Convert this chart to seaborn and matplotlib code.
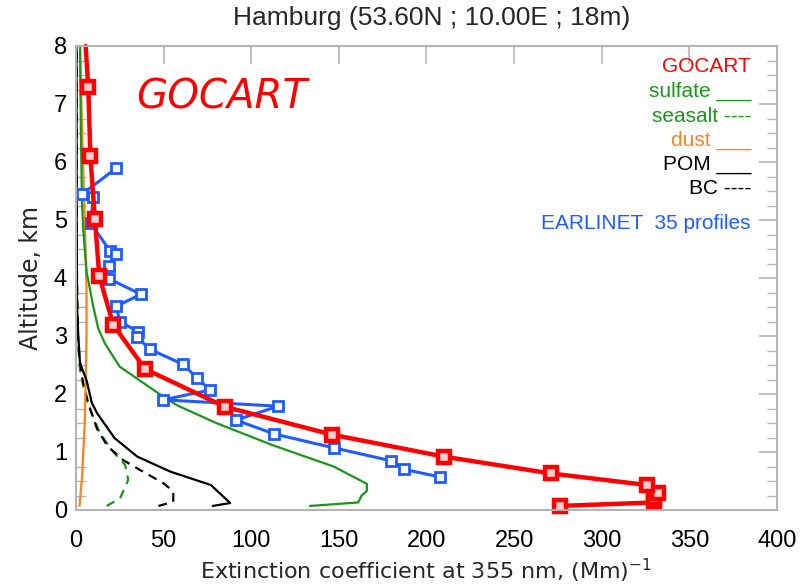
import numpy as np
import pandas as pd
import matplotlib
matplotlib.use("Agg")
import matplotlib.pyplot as plt
import seaborn as sns
from matplotlib.ticker import MultipleLocator

# ---------------- data ----------------
gocart_alt = [0.07, 0.13, 0.20, 0.29, 0.43, 0.63, 0.92, 1.30, 1.78, 2.43, 3.19, 4.03, 5.01, 6.10, 7.29, 8.0]
gocart_ext = [276, 330, 330, 332, 326, 271, 210, 146, 85, 39.5, 21.3, 13.3, 10.8, 8.2, 7.0, 5.5]

earlinet_alt = [5.89, 5.44, 5.40, 4.94, 4.47, 4.41, 4.21, 3.99, 3.72, 3.51, 3.25, 3.07, 2.99,
                2.77, 2.51, 2.28, 2.07, 1.90, 1.79, 1.55, 1.31, 1.07, 0.85, 0.70, 0.57]
earlinet_ext = [22.8, 3.2, 9.9, 8.4, 19.4, 22.8, 19.0, 18.6, 37.0, 22.8, 25.1, 35.6, 34.6,
                42.2, 61.2, 68.9, 76.5, 49.8, 115.4, 91.3, 113.2, 147.4, 179.6, 187.2, 207.7]

sulfate_alt = [0.07, 0.13, 0.25, 0.33, 0.45, 0.75, 1.12, 1.50, 1.80, 1.95, 2.47, 2.87, 3.13, 3.50, 4.10, 4.80, 5.30, 6.50, 8.0]
sulfate_ext = [133.5, 161, 163, 166, 166, 147, 112, 80, 58, 50, 25, 16.5, 12.7, 9.9, 6.1, 4.2, 3.4, 2.8, 2.3]

seasalt_alt = [0.07, 0.20, 0.52, 0.78, 1.00, 1.32, 1.81, 2.13, 2.41, 2.87, 3.5, 5.0, 8.0]
seasalt_ext = [17.5, 25.1, 29.8, 28.0, 21.3, 13.7, 7.0, 4.2, 2.3, 1.3, 0.7, 0.4, 0.3]

dust_alt = [0.07, 0.6, 1.5, 2.2, 3.0, 3.8, 5.0, 6.5, 8.0]
dust_ext = [2.0, 3.5, 5.0, 5.5, 6.0, 6.0, 5.0, 3.5, 2.3]

pom_alt = [0.07, 0.12, 0.43, 0.66, 0.92, 1.24, 1.67, 1.85, 2.24, 2.53, 3.0, 3.5, 5.0, 8.0]
pom_ext = [78, 88, 77, 54, 35, 22, 12, 9, 6, 2.3, 1.3, 0.6, 0.4, 0.3]

bc_alt = [0.07, 0.14, 0.32, 0.46, 0.69, 0.86, 1.10, 1.40, 1.84, 2.20, 2.60, 3.0, 4.0, 8.0]
bc_ext = [47, 55.5, 55.5, 50, 36.5, 27, 18, 12, 7, 4, 2, 1, 0.5, 0.3]

title = "Hamburg (53.60N ; 10.00E ; 18m)"
x_ticks = [0, 50, 100, 150, 200, 250, 300, 350, 400]
y_ticks = [0, 1, 2, 3, 4, 5, 6, 7, 8]
legend_items = [("GOCART", "#ff0000"), ("sulfate ___", "#1a961a"), ("seasalt ----", "#1a961a"),
                ("dust ___", "#ff8020"), ("POM ___", "#000000"), ("BC ----", "#000000")]
earlinet_label = "EARLINET  35 profiles"

# ---------------- colours ----------------
RED = "#ff0000"
GREEN = "#1a961a"
ORANGE = "#ff8020"
BLUE = "#1f5cff"
GRAY = "#b4b4b4"

sns.set_style("white")
plt.rcParams["font.family"] = ["Liberation Sans", "DejaVu Sans"]

fig = plt.figure(figsize=(8.04, 5.84), dpi=100)
ax = fig.add_axes([76 / 804, 1 - 510 / 584, 701 / 804, 464 / 584])

def frame(x, y):
    return pd.DataFrame({"ext": x, "alt": y})

common = dict(x="ext", y="alt", sort=False, estimator=None, ax=ax, legend=False)

sns.lineplot(data=frame(seasalt_ext, seasalt_alt), color=GREEN, lw=1.6, dashes=False,
             linestyle=(0, (4, 3)), **common)
sns.lineplot(data=frame(bc_ext, bc_alt), color="black", lw=1.6, dashes=False,
             linestyle=(0, (4, 3)), **common)
sns.lineplot(data=frame(dust_ext, dust_alt), color=ORANGE, lw=1.6, **common)
sns.lineplot(data=frame(pom_ext, pom_alt), color="black", lw=1.6, **common)
sns.lineplot(data=frame(sulfate_ext, sulfate_alt), color=GREEN, lw=1.6, **common)

sns.lineplot(data=frame(earlinet_ext, earlinet_alt), color=BLUE, lw=2.2,
             marker="s", markersize=7.5, markerfacecolor="white", markeredgecolor=BLUE,
             markeredgewidth=2.0, clip_on=False, **common)
sns.lineplot(data=frame(gocart_ext, gocart_alt), color=RED, lw=3.2,
             marker="s", markersize=8, markerfacecolor="#ffd0d0", markeredgecolor=RED,
             markeredgewidth=3.2, markevery=list(range(len(gocart_alt) - 1)),
             clip_on=False, **common)

ax.set_xlim(0, 400)
ax.set_ylim(0, 8)
ax.set_xticks(x_ticks)
ax.set_yticks(y_ticks)
ax.set_xticklabels([str(t) for t in x_ticks])
ax.set_yticklabels([str(t) for t in y_ticks])
ax.yaxis.set_minor_locator(MultipleLocator(0.25))

for s in ax.spines.values():
    s.set_color(GRAY)
    s.set_linewidth(1.5)
    s.set_visible(True)

ax.tick_params(axis="both", which="major", direction="in", length=13, width=1.2,
               color=GRAY, top=True, right=True, labelsize=17, labelcolor="black")
ax.tick_params(axis="both", which="minor", direction="in", length=7, width=1.0,
               color=GRAY, top=False, right=True, left=True)
ax.tick_params(axis="x", pad=14.5)
ax.tick_params(axis="y", pad=6.5)

ax.set_xlabel("")
ax.set_ylabel("Altitude, km", fontsize=17, family="DejaVu Sans", labelpad=8)
ax.grid(False)

fig.text(426 / 804, 1 - 571 / 584, "Extinction coefficient at 355 nm, (Mm)$^{-1}$",
         ha="center", va="center", fontsize=16, family="DejaVu Sans")

fig.text(432 / 804, 1 - 18 / 584, title, ha="center", va="center", fontsize=19)

fig.text(222 / 804, 1 - 97 / 584, "GOCART", ha="center", va="center", fontsize=29,
         color=RED, style="italic", family="DejaVu Sans")

leg_y = [66.7, 91.7, 116.7, 140, 165, 188.3]
for (txt, col), yy in zip(legend_items, leg_y):
    fig.text(751 / 804, 1 - yy / 584, txt, ha="right", va="center", fontsize=15, color=col)
fig.text(751 / 804, 1 - 223.3 / 584, earlinet_label, ha="right", va="center",
         fontsize=15, color=BLUE)

fig.savefig("out.png", dpi=100)
